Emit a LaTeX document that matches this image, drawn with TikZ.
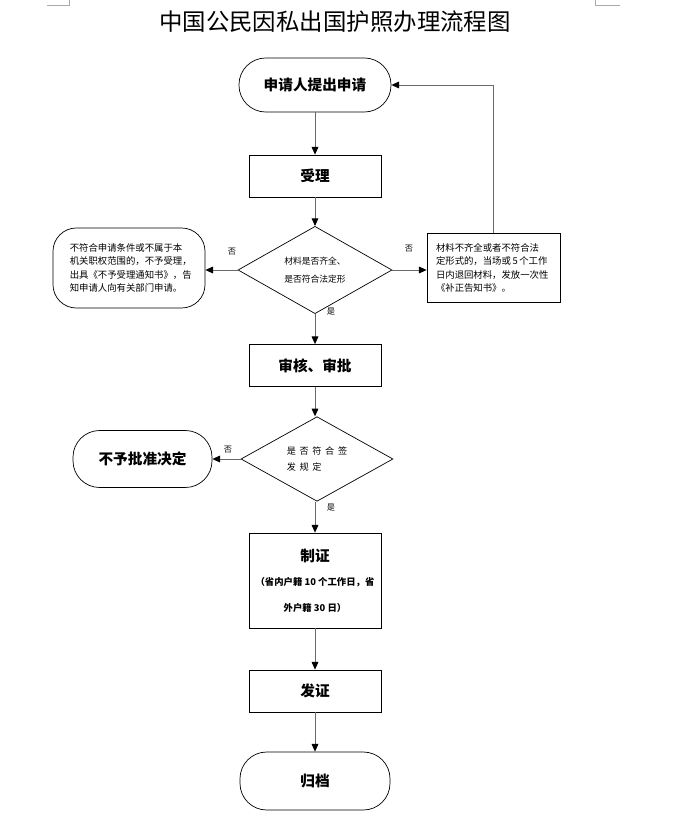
\documentclass[tikz,border=0pt]{standalone}
\usepackage{fontspec}
\setmainfont{Noto Sans CJK SC}
\newfontfamily\spacedcjk{Noto Sans CJK SC}[LetterSpace=40]
\usetikzlibrary{
  arrows.meta,
  shapes.geometric,
  positioning
}
\definecolor{xline}{RGB}{105,105,105}
\definecolor{xmark}{RGB}{170,170,170}
\newcommand{\smallnote}{\fontsize{8}{20}\selectfont}

\begin{document}
\begin{tikzpicture}[x=0.03cm, y=-0.03cm,
  term/.style={draw, rounded corners=0.8cm, line width=0.6pt, inner sep=0pt,
               font=\bfseries\fontsize{12.5}{15}\selectfont},
  proc/.style={draw, line width=0.6pt, minimum width=3.96cm, minimum height=1.26cm,
               inner sep=0pt, align=center, font=\bfseries\fontsize{12.5}{15}\selectfont},
  decide/.style={draw, diamond, line width=0.6pt, inner sep=0pt, align=center},
  note/.style={draw, line width=0.6pt, rounded corners=0.7cm, minimum width=4.56cm,
               minimum height=2.4cm, text width=3.55cm, align=left,
               font=\fontsize{8}{11.3}\selectfont},
  memo/.style={draw, line width=0.6pt, minimum width=3.99cm, minimum height=2.07cm,
               text width=3.45cm, align=left, font=\fontsize{8}{11.5}\selectfont},
  lbl/.style={font=\fontsize{7}{8}\selectfont, inner sep=0pt},
  arr/.style={-{Triangle[length=2.3mm, width=2mm, color=black]}, color=xline, line width=0.8pt}
]
  \useasboundingbox (0,0) rectangle (672,818);

  % page corner marks
  \draw[xmark, line width=0.5pt] (47,5) -- (69,5) -- (69,0);
  \draw[xmark, line width=0.5pt] (620,5) -- (595,5) -- (595,0);

  \node[font=\fontsize{20}{24}\selectfont] (title) at (335,22) {中国公民因私出国护照办理流程图};

  \node[term, minimum width=4.56cm, minimum height=1.62cm] (apply) at (315,85) {申请人提出申请};
  \node[proc] (accept) at (315,176) {受理};
  \node[decide, minimum width=4.62cm, minimum height=2.04cm,
        font=\fontsize{7.5}{15}\selectfont] (check) at (315,270) {材料是否齐全、\\是否符合法定形};
  \node[note] (refuse) at (129,268) {不符合申请条件或不属于本\\机关职权范围的，不予受理，\\出具《不予受理通知书》，告\\知申请人向有关部门申请。};
  \node[memo] (supply) at (493.5,268) {材料不齐全或者不符合法\\定形式的，当场或\,5\,个工作\\日内退回材料，发放一次性\\《补正告知书》。};
  \node[proc] (review) at (315,365.5) {审核、审批};
  \node[decide, minimum width=4.56cm, minimum height=2.04cm, align=left,
        font=\spacedcjk\fontsize{7.8}{13.5}\selectfont] (sign) at (317,459) {是否符合签\\发规定};
  \node[term, minimum width=4.17cm, minimum height=1.71cm] (deny) at (142.5,459) {不予批准决定};
  \node[proc, minimum height=2.85cm] (make) at (315,580.5) {制证\\[6pt]
    \smallnote （省内户籍 10 个工作日，省\\[7pt]\smallnote 外户籍 30 日）};
  \node[proc] (issue) at (315,691) {发证};
  \node[term, minimum width=4.5cm, minimum height=1.74cm] (archive) at (315,781) {归档};

  \node[lbl] (no1) at (232,252) {否};
  \node[lbl] (no2) at (409,249) {否};
  \node[lbl] (yes1) at (331,312) {是};
  \node[lbl] (no3) at (228,450) {否};
  \node[lbl] (yes2) at (331,508) {是};

  \draw[arr] (apply) -- (accept);
  \draw[arr] (accept) -- (check);
  \draw[arr] (check.west) -- (refuse.east |- check.west);
  \draw[arr] (check.east) -- (supply.west |- check.east);
  \draw[arr] (supply.north) |- (apply.east);
  \draw[arr] (check) -- (review);
  \draw[arr] (review) -- (review.south |- sign.north);
  \draw[arr] (sign.west) -- (deny.east |- sign.west);
  \draw[arr] (sign.south -| make.north) -- (make);
  \draw[arr] (make) -- (issue);
  \draw[arr] (issue) -- (archive);
\end{tikzpicture}
\end{document}
